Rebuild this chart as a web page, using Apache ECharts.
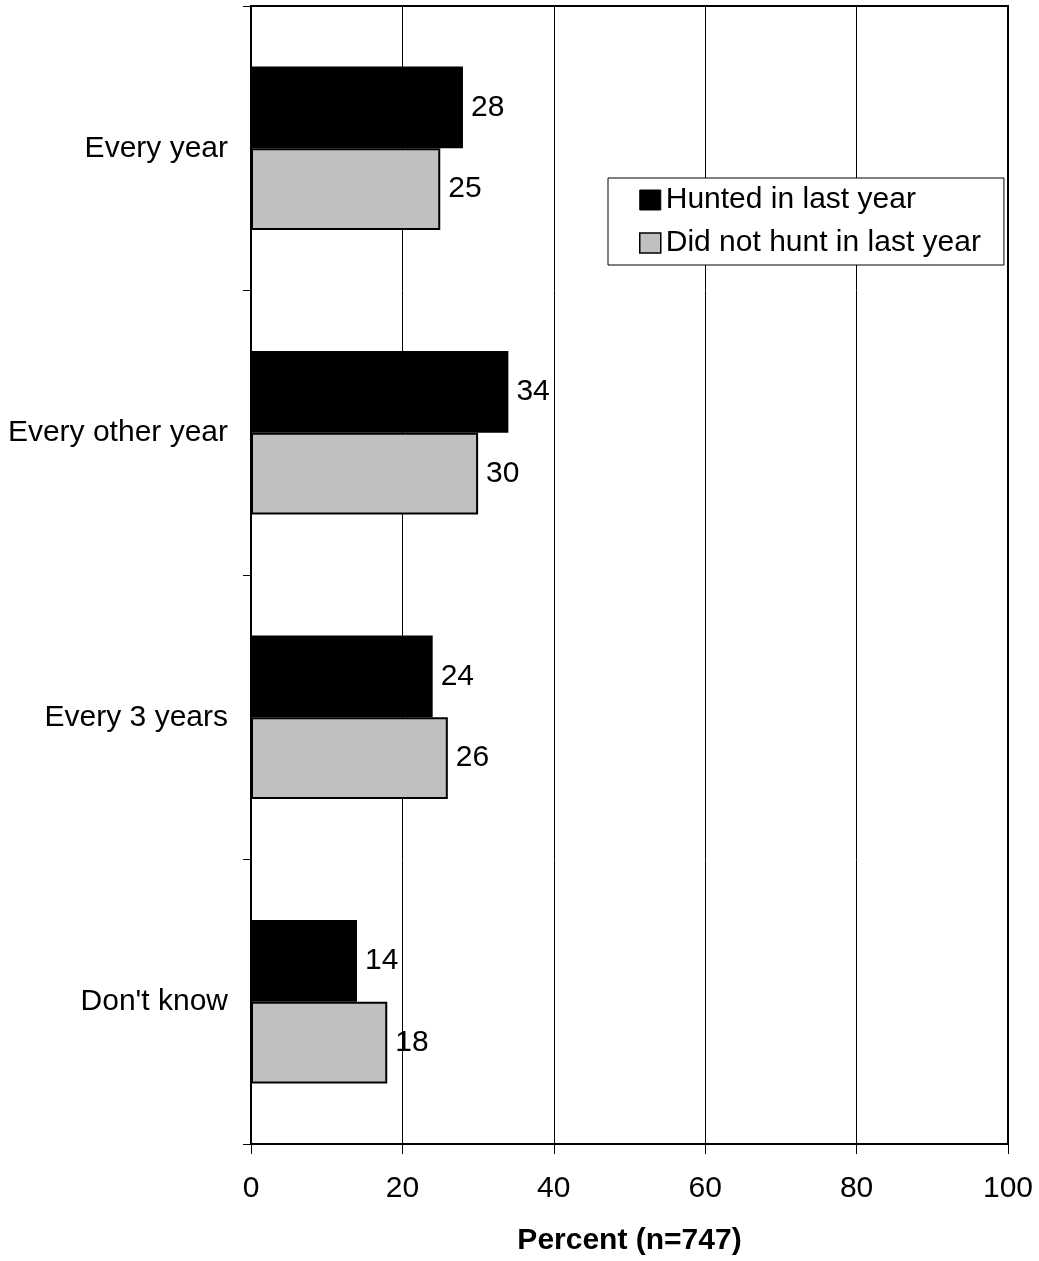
<!DOCTYPE html>
<html>
<head>
<meta charset="utf-8">
<title>Hunting frequency</title>
<script src="https://cdn.jsdelivr.net/npm/echarts@6/dist/echarts.min.js"></script>
<style>
  html, body { margin: 0; padding: 0; background: #fff; }
  #chart { width: 1039px; height: 1261px; }
</style>
</head>
<body>
<div id="chart"></div>
<script>
// Response categories, top to bottom
const categories = ['Every year', 'Every other year', 'Every 3 years', "Don't know"];
// Percent of respondents in each group
const huntedLastYear = [28, 34, 24, 14];
const didNotHuntLastYear = [25, 30, 26, 18];
// Percent axis ticks
const xTicks = [0, 20, 40, 60, 80, 100];

const FONT = '"Liberation Sans", Arial, sans-serif';
const FS = 30;

const chart = echarts.init(document.getElementById('chart'), null, { renderer: 'canvas' });

const labelStyle = {
  show: true,
  position: 'right',
  distance: 8,
  color: '#000',
  fontFamily: FONT,
  fontSize: FS
};

chart.setOption({
  animation: false,
  backgroundColor: '#fff',
  textStyle: { fontFamily: FONT, color: '#000' },
  grid: {
    left: 251, right: 31, top: 6, bottom: 113,
    containLabel: false,
    show: true,
    borderColor: '#000',
    borderWidth: 2,
    backgroundColor: '#fff'
  },
  legend: {
    orient: 'vertical',
    left: 608,
    top: 178,
    padding: [7, 23, 7, 31],
    itemGap: 13,
    itemWidth: 21,
    itemHeight: 20,
    borderColor: '#000',
    borderWidth: 1,
    backgroundColor: '#fff',
    textStyle: { fontFamily: FONT, fontSize: FS, color: '#000' },
    data: [
      { name: 'Hunted in last year', icon: 'rect', itemStyle: { color: '#000', borderColor: '#000', borderWidth: 1 } },
      { name: 'Did not hunt in last year', icon: 'rect', itemStyle: { color: '#c0c0c0', borderColor: '#000', borderWidth: 1.5 } }
    ]
  },
  xAxis: {
    type: 'value',
    min: xTicks[0],
    max: xTicks[xTicks.length - 1],
    interval: xTicks[1] - xTicks[0],
    name: 'Percent (n=747)',
    nameLocation: 'middle',
    nameGap: 82,
    nameTextStyle: { fontFamily: FONT, fontSize: FS, fontWeight: 'bold', color: '#000' },
    axisLine: { show: true, lineStyle: { color: '#000', width: 2 } },
    axisTick: { show: true, length: 10, lineStyle: { color: '#000', width: 1 } },
    axisLabel: { fontFamily: FONT, fontSize: FS, color: '#000', margin: 30 },
    splitLine: { show: true, lineStyle: { color: '#000', width: 1 } }
  },
  yAxis: {
    type: 'category',
    data: categories,
    inverse: true,
    axisLine: { show: true, lineStyle: { color: '#000', width: 2 } },
    axisTick: { show: true, length: 8, lineStyle: { color: '#000', width: 1 } },
    axisLabel: { fontFamily: FONT, fontSize: FS, color: '#000', margin: 23 },
    splitLine: { show: false }
  },
  series: [
    {
      name: 'Hunted in last year',
      type: 'bar',
      data: huntedLastYear,
      barGap: '0%',
      barCategoryGap: '42.5%',
      itemStyle: { color: '#000', borderColor: '#000', borderWidth: 1.5 },
      label: labelStyle
    },
    {
      name: 'Did not hunt in last year',
      type: 'bar',
      data: didNotHuntLastYear,
      barGap: '0%',
      barCategoryGap: '42.5%',
      itemStyle: { color: '#c0c0c0', borderColor: '#000', borderWidth: 2 },
      label: labelStyle
    }
  ]
});
</script>
</body>
</html>
